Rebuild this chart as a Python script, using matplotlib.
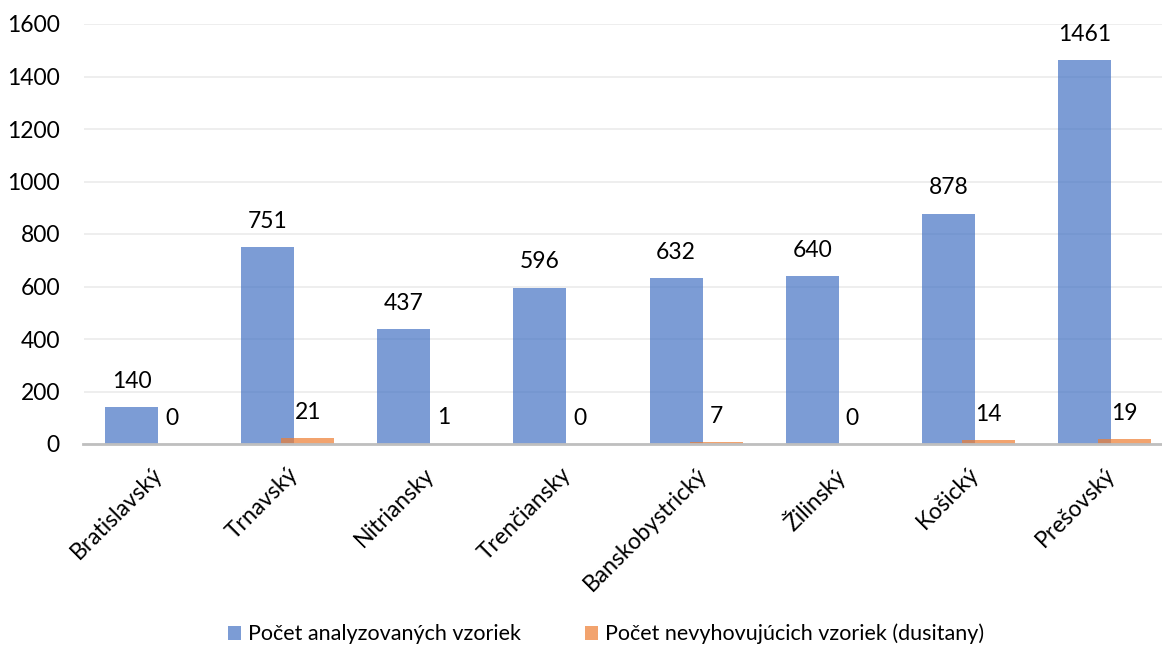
import matplotlib
matplotlib.use("Agg")
import matplotlib.pyplot as plt
import numpy as np

regions = ["Bratislavský", "Trnavský", "Nitriansky", "Trenčiansky", "Banskobystrický", "Žilinský", "Košický", "Prešovský"]
analyzed = [140, 751, 437, 596, 632, 640, 878, 1461]
noncompliant = [0, 21, 1, 0, 7, 0, 14, 19]
series_names = ["Počet analyzovaných vzoriek", "Počet nevyhovujúcich vzoriek (dusitany)"]

plt.rcParams["font.family"] = ["Lato", "DejaVu Sans"]

W, H = 1162, 649
fig = plt.figure(figsize=(W / 100, H / 100), dpi=100)
ax = fig.add_axes([83.5 / W, 1 - 444 / H, 1089 / W, (444 - 24) / H])

x = np.arange(len(regions))
bw = 0.39
off = 0.147
b1 = ax.bar(x - off, analyzed, bw, color="#4472C4", alpha=0.7, linewidth=0, zorder=2, label=series_names[0])
b2 = ax.bar(x + off, noncompliant, bw, color="#ED7D31", alpha=0.7, linewidth=0, zorder=3, label=series_names[1])
for bars in (b1, b2):
    for rect in bars:
        ax.annotate(f"{int(rect.get_height())}", (rect.get_x() + rect.get_width() / 2, rect.get_height()),
                    xytext=(0, 11), textcoords="offset points", ha="center", va="bottom", fontsize=16.5, color="black")

ax.set_xlim(-0.5, len(regions) - 0.5)
ax.set_ylim(0, 1600)
ax.set_yticks(range(0, 1601, 200))
ax.grid(axis="y", color="#ebebeb", linewidth=1.2, zorder=0)
ax.set_axisbelow(True)
for s in ("top", "right", "left"):
    ax.spines[s].set_visible(False)
ax.spines["bottom"].set_color("#bfbfbf")
ax.spines["bottom"].set_linewidth(2)
ax.spines["bottom"].set_zorder(4)
ax.tick_params(axis="both", length=0, labelsize=16.5, colors="black")
ax.tick_params(axis="y", pad=17)
ax.set_xticks(x)
ax.set_xticklabels(regions, rotation=45, ha="right", rotation_mode="anchor")
ax.tick_params(axis="x", pad=14)

fig.legend(loc="center", bbox_to_anchor=(606 / W, 1 - 634 / H), ncol=2, frameon=False, fontsize=15.5,
           handlelength=0.6, handleheight=0.6, handletextpad=0.3, columnspacing=3.0)

fig.savefig("out.png", dpi=100)
